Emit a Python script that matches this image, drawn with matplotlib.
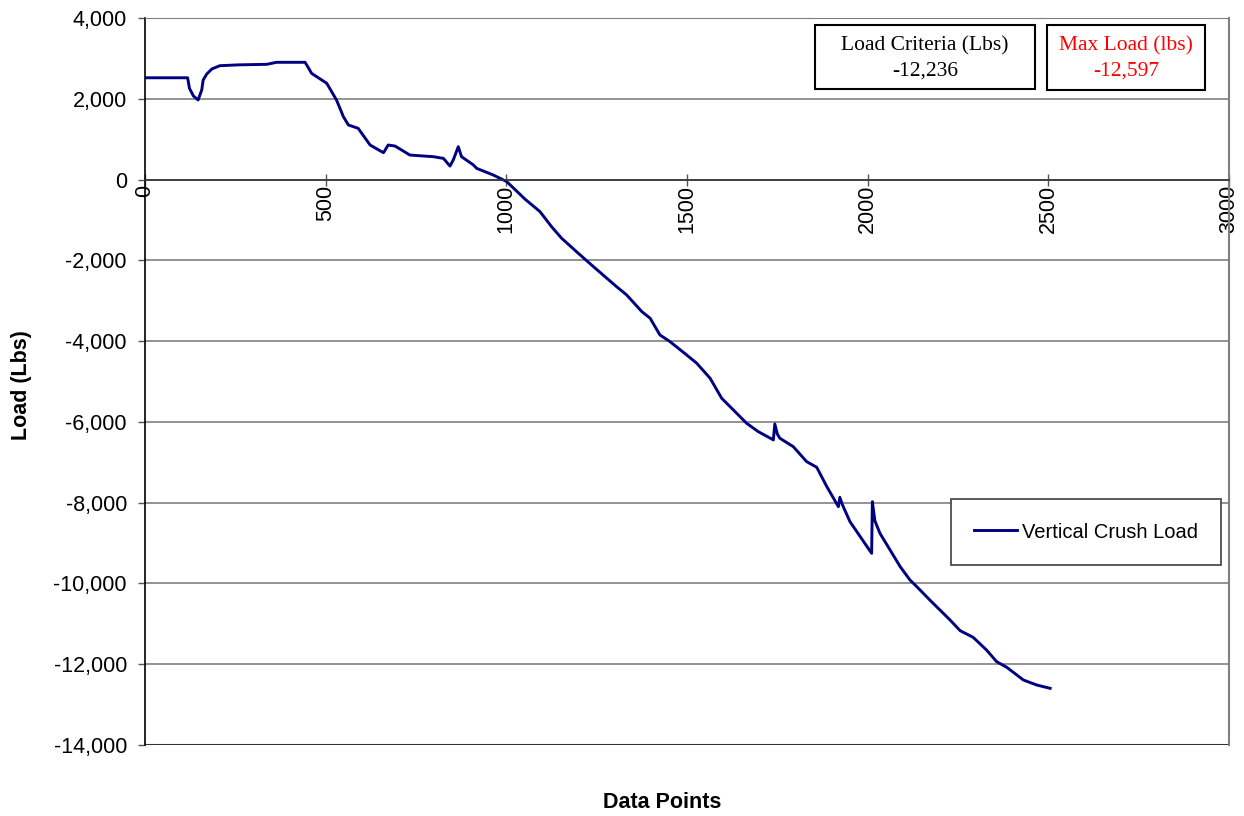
import matplotlib
matplotlib.use('Agg')
import matplotlib.pyplot as plt
from matplotlib.patches import Rectangle

# Vertical crush test - load trace
data_points = [0, 118, 123, 134, 147, 157, 161, 171, 185, 207, 260, 337, 364, 443,
               450, 461, 503, 530, 549, 563, 590, 623, 660, 673, 692, 733, 798, 826,
               844, 853, 867, 876, 909, 918, 964, 1001, 1052, 1093, 1125, 1153, 1199,
               1241, 1305, 1333, 1375, 1398, 1425, 1453, 1499, 1527, 1564, 1596, 1633,
               1665, 1697, 1739, 1743, 1750, 1757, 1794, 1831, 1859, 1887, 1919, 1923,
               1930, 1951, 2011, 2013, 2020, 2034, 2090, 2117, 2136, 2172, 2228, 2256,
               2292, 2329, 2357, 2385, 2431, 2468, 2505]
load_lbs = [2520, 2520, 2260, 2070, 1970, 2217, 2465, 2613, 2738, 2819, 2840, 2853, 2903, 2903,
            2800, 2630, 2383, 1970, 1557, 1351, 1268, 855, 665, 855, 830, 607, 566, 524,
            334, 483, 813, 566, 360, 277, 112, -50, -487, -793, -1165, -1453, -1824,
            -2156, -2651, -2857, -3270, -3434, -3847, -4013, -4342, -4548, -4920, -5415, -5746,
            -6034, -6240, -6446, -6050, -6300, -6405, -6612, -6983, -7124, -7604, -8099, -7867,
            -8050, -8470, -9254, -7976, -8450, -8759, -9584, -9914, -10080, -10410, -10905, -11170,
            -11334, -11648, -11937, -12077, -12391, -12515, -12597]

x_ticks = [0, 500, 1000, 1500, 2000, 2500, 3000]
y_ticks = [4000, 2000, 0, -2000, -4000, -6000, -8000, -10000, -12000, -14000]
y_tick_labels = ['4,000', '2,000', '0', '-2,000', '-4,000', '-6,000', '-8,000',
                 '-10,000', '-12,000', '-14,000']

load_criteria = '-12,236'
max_load = '-12,597'

W, H = 1244, 816
fig = plt.figure(figsize=(W / 100, H / 100), dpi=100)
ax = fig.add_axes([145 / W, 1 - 745 / H, (1229 - 145) / W, (745 - 18) / H])

sans = 'Liberation Sans'
serif = 'Liberation Serif'
fs = 15.5

ax.plot(data_points, load_lbs, color='#000080', linewidth=2.1, label='Vertical Crush Load')

ax.set_xlim(0, 3000)
ax.set_ylim(-14000, 4000)

# horizontal grid + frame
ax.set_yticks(y_ticks)
ax.set_yticklabels(y_tick_labels, fontsize=fs, family=sans)
ax.yaxis.grid(True, color='#808080', linewidth=1.2)
ax.set_axisbelow(True)
ax.axhline(-14000, color='#333333', linewidth=1.5, zorder=1)

ax.spines['left'].set_color('black')
ax.spines['left'].set_linewidth(1.2)
ax.spines['top'].set_color('#808080')
ax.spines['right'].set_color('#808080')
ax.spines['right'].set_linewidth(1.5)
ax.spines['bottom'].set_position(('data', 0))
ax.spines['bottom'].set_color('#333333')
ax.spines['bottom'].set_linewidth(1.2)

ax.set_xticks(x_ticks)
ax.set_xticklabels([str(t) for t in x_ticks], fontsize=fs, family=sans, rotation=90)
ax.tick_params(axis='x', direction='inout', length=8, width=1, color='#555555', pad=0)
ax.tick_params(axis='y', direction='out', length=5, width=1, color='#555555', pad=8)
for lbl in ax.get_xticklabels():
    lbl.set_verticalalignment('top')

fig.text(22 / W, 1 - 385 / H, 'Load (Lbs)', rotation=90, ha='center', va='center',
         fontsize=fs, fontweight='bold', family=sans)
fig.text(662 / W, 1 - 803 / H, 'Data Points', ha='center', va='center',
         fontsize=fs, fontweight='bold', family=sans)

# summary boxes in the top right corner
def summary_box(x0, x1, y0, y1, title, value, color):
    fig.add_artist(Rectangle((x0 / W, 1 - y1 / H), (x1 - x0) / W, (y1 - y0) / H,
                             transform=fig.transFigure, facecolor='white',
                             edgecolor='black', linewidth=1.5, zorder=5))
    cx = (x0 + x1) / 2 / W
    fig.text(cx, 1 - 46 / H, title, ha='center', va='center', fontsize=fs,
             family=serif, color=color, zorder=6)
    fig.text(cx, 1 - 71 / H, value, ha='center', va='center', fontsize=fs,
             family=serif, color=color, zorder=6)

summary_box(815, 1035, 25, 89, 'Load Criteria (Lbs)', load_criteria, 'black')
summary_box(1047, 1205, 25, 90, 'Max Load (lbs)', max_load, '#ff0000')

leg = ax.legend(loc='center', bbox_to_anchor=(1086 / W, 1 - 532 / H),
                bbox_transform=fig.transFigure, prop={'family': sans, 'size': 14.5},
                frameon=True, fancybox=False, framealpha=1, borderpad=1.15,
                handlelength=2.1, handletextpad=0.25)
leg.get_frame().set_edgecolor('#404040')
leg.get_frame().set_linewidth(1.2)

fig.savefig('out.png', dpi=100)
